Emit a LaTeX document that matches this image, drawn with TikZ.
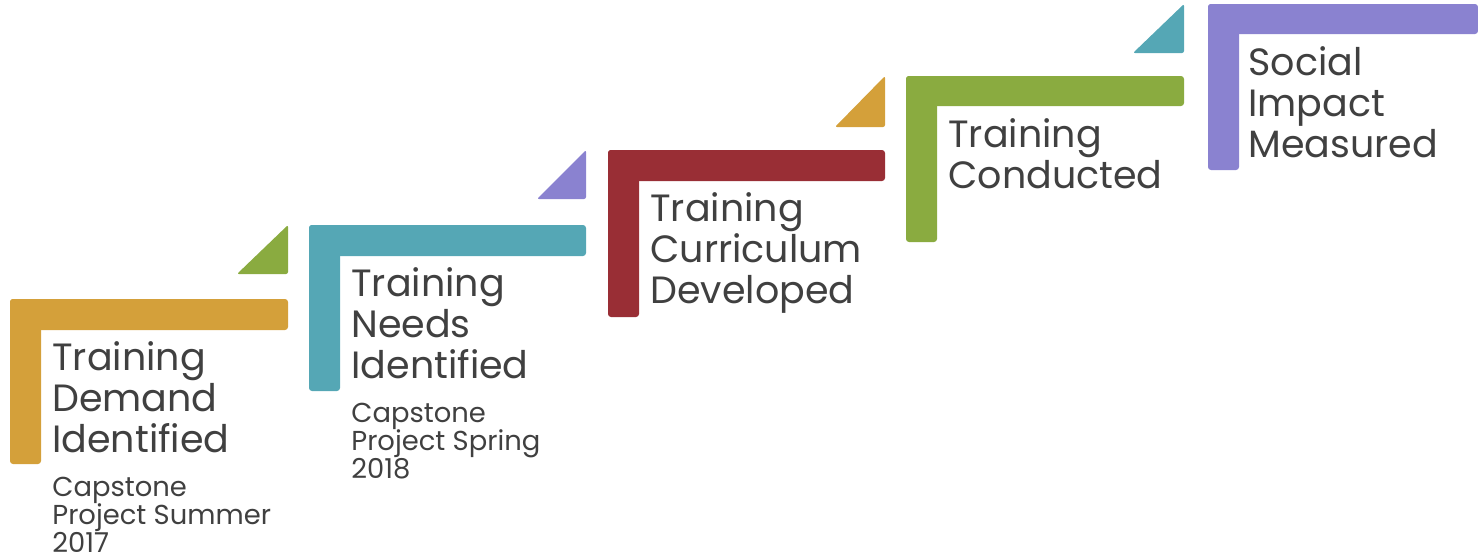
\documentclass[tikz,border=0pt]{standalone}
\usepackage{fontspec}
\setmainfont{Poppins}
\usepackage{tikz}
\usetikzlibrary{positioning}
\definecolor{stepgold}{RGB}{212,160,58}
\definecolor{stepteal}{RGB}{85,167,181}
\definecolor{stepred}{RGB}{153,46,53}
\definecolor{stepgreen}{RGB}{138,171,64}
\definecolor{steppurple}{RGB}{138,130,208}
\definecolor{txtgray}{RGB}{64,64,64}
\tikzstyle{bar} = [rounded corners=1.5pt]
\tikzstyle{flag} = [rounded corners=1pt]
\tikzstyle{steptext} = [anchor=base west, align=left, inner sep=0pt, text=txtgray, font=\fontsize{19}{20.5}\selectfont]
\tikzstyle{stepnote} = [anchor=base west, align=left, inner sep=0pt, text=txtgray, font=\fontsize{13.7}{14}\selectfont]

\begin{document}
\begin{tikzpicture}[x=0.5pt, y=-0.5pt]
    \useasboundingbox (0,0) rectangle (1478,557);

    % Step bars
    \fill [bar, stepgold] (10,299) rectangle (288,330);
    \fill [bar, stepgold] (10,299) rectangle (41,464);
    \fill [bar, stepteal] (309,225) rectangle (586,256);
    \fill [bar, stepteal] (309,225) rectangle (340,391);
    \fill [bar, stepred] (608,150) rectangle (885,181);
    \fill [bar, stepred] (608,150) rectangle (639,317);
    \fill [bar, stepgreen] (906,76) rectangle (1184,106);
    \fill [bar, stepgreen] (906,76) rectangle (937,242);
    \fill [bar, steppurple] (1208,4) rectangle (1478,34);
    \fill [bar, steppurple] (1208,4) rectangle (1239,170);

    % Corner flags
    \fill [flag, stepgreen] (237,274) -- (288,274) -- (288,225) -- cycle;
    \fill [flag, steppurple] (537,199) -- (586,199) -- (586,150) -- cycle;
    \fill [flag, stepgold] (835,127) -- (885,127) -- (885,76) -- cycle;
    \fill [flag, stepteal] (1133,53) -- (1184,53) -- (1184,4) -- cycle;

    % Labels (anchored on the last line)
    \node (demand) [steptext] at (52,452) {Training\\Demand\\Identified};
    \node (needs) [steptext] at (351,378) {Training\\Needs\\Identified};
    \node (curriculum) [steptext] at (650,303) {Training\\Curriculum\\Developed};
    \node (conducted) [steptext] at (948,188) {Training\\Conducted};
    \node (impact) [steptext] at (1248,157) {Social\\Impact\\Measured};

    \node (summer) [stepnote] at (52,552) {Capstone\\Project Summer\\2017};
    \node (spring) [stepnote] at (351,478) {Capstone\\Project Spring\\2018};
\end{tikzpicture}
\end{document}
